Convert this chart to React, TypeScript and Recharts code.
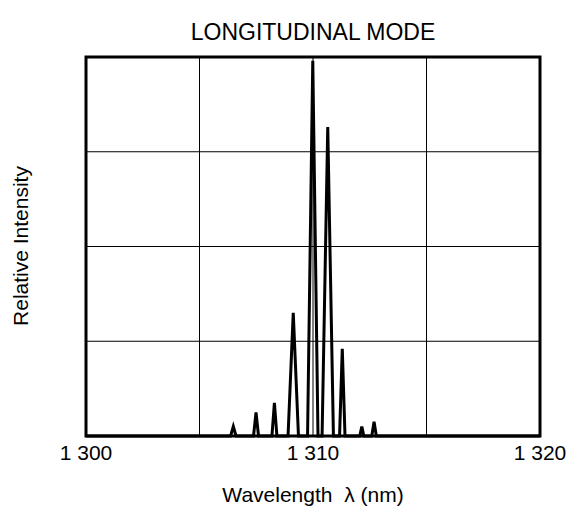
import React from 'react';
import { LineChart, Line, XAxis, YAxis, ReferenceLine, ReferenceArea } from 'recharts';

// spectrum vertices: wavelength (nm) and relative intensity, baseline between modes
const wavelengths = [
  1300, 1306.37, 1306.49, 1306.61, 1307.38, 1307.49, 1307.6, 1308.19, 1308.3, 1308.41,
  1308.9, 1309.13, 1309.36, 1309.76, 1309.99, 1310.22, 1310.4, 1310.65, 1310.9,
  1311.17, 1311.29, 1311.41, 1312.06, 1312.15, 1312.24, 1312.59, 1312.69, 1312.79, 1320,
];
const intensities = [
  0, 0, 0.1, 0, 0, 0.25, 0, 0, 0.35, 0,
  0, 1.3, 0, 0, 3.96, 0, 0, 3.26, 0,
  0, 0.92, 0, 0, 0.1, 0, 0, 0.15, 0, 0,
];
const xTicks = [1300, 1310, 1320];
const xGrid = [1305, 1310, 1315];
const yGrid = [1, 2, 3];

const data = wavelengths.map((w, i) => ({ w, v: intensities[i] }));

const fmtTick = (v: number) => {
  const s = String(v);
  return s.slice(0, 1) + ' ' + s.slice(1);
};

const font = '"Liberation Sans", Arial, sans-serif';

export default function App() {
  return (
    <div style={{ position: 'absolute', left: 0, top: 0, width: 578, height: 514, background: '#fff' }}>
      <LineChart width={578} height={514} data={data} margin={{ top: 57, right: 38, bottom: 48, left: 86 }}>
        <XAxis
          dataKey="w"
          type="number"
          domain={[1300, 1320]}
          ticks={xTicks}
          tickFormatter={fmtTick}
          axisLine={false}
          tickLine={false}
          tick={{ fill: '#000', fontSize: 21, fontFamily: font }}
          tickMargin={3}
        />
        <YAxis type="number" domain={[0, 4]} hide />
        {xGrid.map((x) => (
          <ReferenceLine key={'x' + x} x={x} stroke="#000" strokeWidth={1} />
        ))}
        {yGrid.map((y) => (
          <ReferenceLine key={'y' + y} y={y} stroke="#000" strokeWidth={1} />
        ))}
        <Line
          dataKey="v"
          type="linear"
          stroke="#000"
          strokeWidth={3}
          strokeLinejoin="miter"
          dot={false}
          isAnimationActive={false}
        />
        <ReferenceArea x1={1300} x2={1320} y1={0} y2={4} fill="none" stroke="#000" strokeWidth={3} ifOverflow="visible" />
      </LineChart>
      <svg width={578} height={514} style={{ position: 'absolute', left: 0, top: 0, pointerEvents: 'none' }}>
        <text x={313} y={40} textAnchor="middle" fontFamily={font} fontSize={23} fill="#000">
          LONGITUDINAL MODE
        </text>
        <text x={28} y={246} textAnchor="middle" fontFamily={font} fontSize={21} fill="#000" transform="rotate(-90 28 246)">
          Relative Intensity
        </text>
        <text x={313} y={502} textAnchor="middle" fontFamily={font} fontSize={21} fill="#000" xmlSpace="preserve">
          Wavelength  λ (nm)
        </text>
      </svg>
    </div>
  );
}
